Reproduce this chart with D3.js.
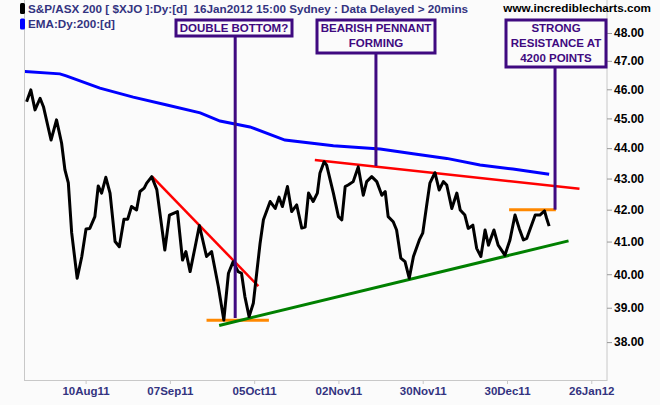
<!DOCTYPE html>
<html>
<head>
<meta charset="utf-8">
<script src="https://cdn.jsdelivr.net/npm/d3@7"></script>
<style>
  html, body { margin: 0; padding: 0; background: #fbfbfb; }
  svg { display: block; font-family: "Liberation Sans", Arial, sans-serif; }
</style>
</head>
<body>
<div id="chart"></div>
<script>
// trading-day position of each traced vertex (0 = first bar) and the value (index / 100)
const priceDays = [0, 1, 2, 3.2, 4, 5.8, 7.1, 8.3, 9.1, 9.9, 10.7, 12, 13.1, 14.1, 15, 16.2, 17, 17.8, 18.8, 19.8,
  21, 22, 23.1, 24, 24.9, 26.1, 26.9, 27.9, 28.5, 29.7, 30.9, 32.8, 33.9, 35.8, 37, 37.8, 38.8, 40, 41,
  42.7, 43.9, 45.5, 46.8, 47.9, 49, 50.2, 51, 51.8, 52.8, 53.8, 54.6, 55.4, 56.2, 57.8, 59, 59.9, 60.7,
  61.9, 62.9, 64.1, 65.3, 66.1, 66.9, 68, 69, 69.6, 70.6, 71.2, 72.8, 74, 74.8, 75.6, 76.3, 77.5, 78.7,
  79.9, 80.7, 81.9, 83.1, 84.3, 85.1, 85.8, 87, 87.8, 88.8, 89.8, 90.8, 91.8, 93.2, 94, 94.9, 95.7, 96.9,
  97.9, 98.9, 99.7, 100.9, 102.1, 102.9, 104, 104.8, 105.9, 106.8, 107.8, 108.8, 109.6, 110.9, 111.9,
  113.5, 114.7, 115.9, 116.9, 117.9, 118.7, 120.7, 121.8, 122.9, 123.4, 124];
const priceValues = [45.57, 45.98, 45.29, 45.69, 45.40, 44.27, 44.95, 44.17, 43.28, 42.86, 41.27, 39.88, 40.54,
  41.39, 41.41, 41.78, 42.76, 42.53, 43.04, 42.53, 41.00, 40.84, 41.70, 41.70, 42.10, 41.99, 42.58, 42.69,
  42.85, 43.06, 42.64, 40.74, 41.83, 41.94, 40.43, 40.69, 40.08, 40.84, 41.50,
  40.54, 40.69, 39.63, 38.64, 40.03, 40.38, 40.08, 40.03, 39.33, 38.74, 39.13, 40.03, 40.94, 41.68, 42.26,
  42.04, 42.40, 42.10, 42.74, 41.94, 42.15, 41.42, 41.45, 42.53, 42.26, 42.53, 43.17, 43.55, 43.44, 42.53,
  41.78, 41.68, 42.74, 42.79, 42.90, 43.38, 42.46, 42.90, 43.06, 42.90, 42.46, 42.58, 41.78, 41.62, 41.36,
  40.49, 40.38, 39.88, 40.54, 41.05, 41.26, 42.10, 42.85, 43.19, 42.63, 42.90, 42.79, 42.04, 42.53, 41.99,
  41.83, 41.41, 41.51, 40.79, 40.54, 41.36, 40.89, 41.36, 40.89, 40.58, 41.05, 41.83, 41.41, 41.05, 41.10,
  41.83, 41.83, 41.96, 41.73, 41.48];

const emaDays = [-0.4, 7.9, 9.4, 17.4, 25.3, 33.3, 41.2, 45.9, 53, 61.3, 72.8, 83.9, 91.7, 99.7, 107.6, 115.4, 124];
const emaValues = [46.62, 46.54, 46.47, 46.04, 45.73, 45.46, 45.19, 44.91, 44.71, 44.27, 44.08, 43.97, 43.81,
  43.66, 43.44, 43.31, 43.14];

const tickDays = [14, 34, 54, 74, 94, 114, 134];
const tickLabels = ["10Aug11", "07Sep11", "05Oct11", "02Nov11", "30Nov11", "30Dec11", "26Jan12"];
const yTicks = [38, 39, 40, 41, 42, 43, 44, 45, 46, 47, 48];

// drawn trend lines: [day0, value0, day1, value1]
const redLines = [[29.8, 43.06, 55.0, 39.64], [68.4, 43.61, 131.2, 42.67]];
const greenLines = [[45.7, 38.48, 128.6, 41.02]];
const orangeLines = [[42.7, 38.63, 57.5, 38.63], [114.5, 42.0, 125.6, 42.0]];

const noteText = [["DOUBLE BOTTOM?"], ["BEARISH PENNANT", "FORMING"], ["STRONG", "RESISTANCE AT", "4200 POINTS"]];
const noteDays = [49.5, 82.9, 125.4];
const noteValues = [38.7, 43.41, 42.0];

const W = 660, H = 405;
const plot = { left: 24, right: 607.5, top: -1, bottom: 380 };
const noteBoxes = [
  { x: 176, y: 20, w: 116, h: 16 },
  { x: 317, y: 20, w: 118, h: 33 },
  { x: 506, y: 20, w: 100, h: 47 }
];
const purple = "#3f0a80";
const navy = "#333380";

const svg = d3.select("#chart").append("svg").attr("width", W).attr("height", H);

const x = d3.scaleLinear().domain([(24 - 26.6) / 4.214, (607.5 - 26.6) / 4.214]).range([plot.left, plot.right]);
const y = d3.scaleLog().domain([38, 48]).range([342.1, 33]);

// frame
svg.append("rect")
  .attr("x", plot.left + 0.5).attr("y", plot.top)
  .attr("width", plot.right - plot.left - 1).attr("height", plot.bottom - plot.top + 0.5)
  .attr("fill", "#fbfbfb").attr("stroke", "#c8c8c8").attr("stroke-width", 1);

// right axis
const yAxis = svg.append("g")
  .attr("transform", `translate(${plot.right - 0.5},0)`)
  .call(d3.axisRight(y).tickValues(yTicks).tickFormat(d3.format(".2f")).tickSize(5).tickPadding(2));
yAxis.select(".domain").remove();
yAxis.selectAll("line").attr("stroke", "#999");
yAxis.selectAll("text").attr("fill", "#000").attr("font-size", 12).attr("font-weight", "bold")
  .attr("font-family", "Liberation Sans, Arial, sans-serif");

// bottom axis
const xAxis = svg.append("g")
  .attr("transform", `translate(0,${plot.bottom})`)
  .call(d3.axisBottom(x).tickValues(tickDays).tickFormat((d, i) => tickLabels[i]).tickSize(4).tickPadding(3));
xAxis.select(".domain").remove();
xAxis.selectAll("line").attr("stroke", "#c8c8c8");
xAxis.selectAll("text").attr("fill", navy).attr("font-size", 11.5).attr("font-weight", "bold")
  .attr("font-family", "Liberation Sans, Arial, sans-serif");

const g = svg.append("g");
g.append("clipPath").attr("id", "clip").append("rect")
  .attr("x", plot.left + 1).attr("y", 0).attr("width", plot.right - plot.left - 2).attr("height", plot.bottom);
const inner = g.append("g").attr("clip-path", "url(#clip)");

const line = d3.line().x(d => x(d[0])).y(d => y(d[1]));

// EMA 200
inner.append("path")
  .datum(emaDays.map((d, i) => [d, emaValues[i]]))
  .attr("d", line).attr("fill", "none").attr("stroke", "#0000ff").attr("stroke-width", 3);

const drawSegs = (segs, color, w) => {
  inner.append("g").selectAll("line").data(segs).join("line")
    .attr("x1", d => x(d[0])).attr("y1", d => y(d[1]))
    .attr("x2", d => x(d[2])).attr("y2", d => y(d[3]))
    .attr("stroke", color).attr("stroke-width", w);
};
drawSegs(redLines, "#ff0000", 2.5);
drawSegs(orangeLines, "#ff8800", 3);
drawSegs(greenLines, "#008000", 3);

// price
inner.append("path")
  .datum(priceDays.map((d, i) => [d, priceValues[i]]))
  .attr("d", line).attr("fill", "none").attr("stroke", "#000").attr("stroke-width", 3)
  .attr("stroke-linejoin", "round");

// callouts
noteBoxes.forEach((b, i) => {
  svg.append("line")
    .attr("x1", x(noteDays[i])).attr("x2", x(noteDays[i]))
    .attr("y1", b.y + b.h).attr("y2", y(noteValues[i]))
    .attr("stroke", purple).attr("stroke-width", 3);
  svg.append("rect")
    .attr("x", b.x).attr("y", b.y).attr("width", b.w).attr("height", b.h)
    .attr("fill", "#fbfbfb").attr("stroke", purple).attr("stroke-width", 3);
  noteText[i].forEach((t, j) => {
    svg.append("text")
      .attr("x", b.x + b.w / 2).attr("y", b.y + 12 + j * 15)
      .attr("text-anchor", "middle").attr("fill", purple)
      .attr("font-size", 11.5).attr("font-weight", "bold").text(t);
  });
});

// header / legend
svg.append("rect").attr("x", 20).attr("y", 3).attr("width", 5).attr("height", 11).attr("rx", 1.5).attr("fill", "#000");
svg.append("rect").attr("x", 20).attr("y", 18.5).attr("width", 5).attr("height", 11).attr("rx", 1.5).attr("fill", "#0000ff");
svg.append("text").attr("x", 28).attr("y", 12.5).attr("fill", navy).attr("font-size", 11.7).attr("font-weight", "bold")
  .attr("xml:space", "preserve")
  .text("S&P/ASX 200 [ $XJO ]:Dy:[d]  16Jan2012 15:00 Sydney : Data Delayed > 20mins");
svg.append("text").attr("x", 28).attr("y", 28).attr("fill", navy).attr("font-size", 11.7).attr("font-weight", "bold")
  .text("EMA:Dy:200:[d]");
svg.append("text").attr("x", 651).attr("y", 12).attr("text-anchor", "end").attr("fill", "#000")
  .attr("font-size", 11.7).attr("font-weight", "bold").text("www.incrediblecharts.com");
</script>
</body>
</html>
